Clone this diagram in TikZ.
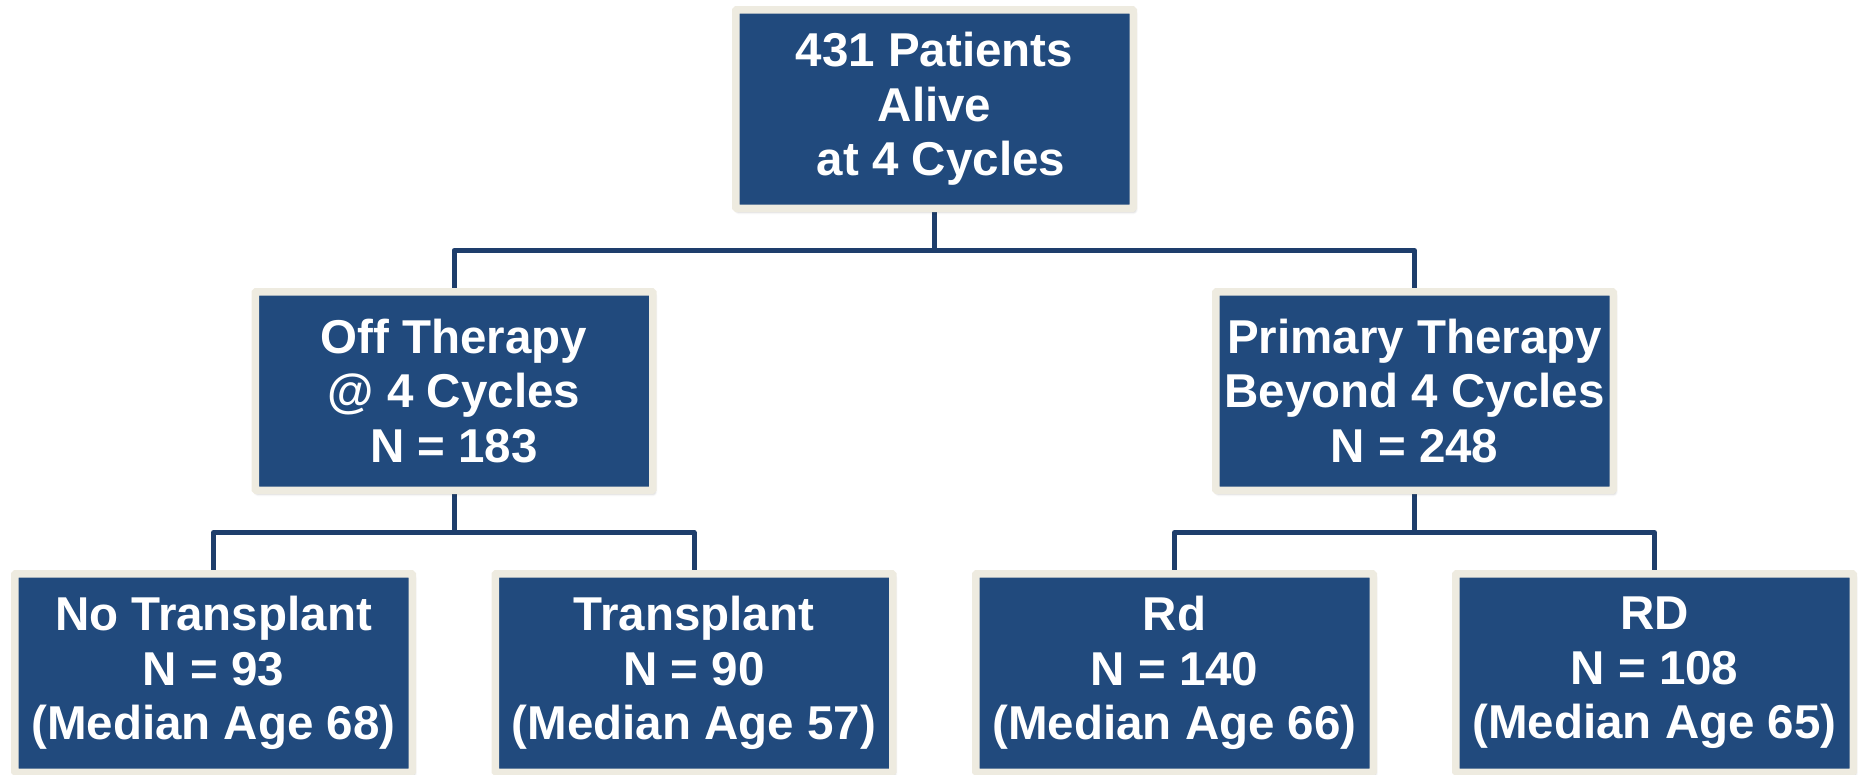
\documentclass[tikz,border=0pt]{standalone}
\usepackage{fontspec}
\setmainfont{Liberation Sans}
\usetikzlibrary{shadows.blur,backgrounds}

\definecolor{boxblue}{RGB}{33,74,125}
\definecolor{framecream}{RGB}{238,235,224}
\definecolor{linkblue}{RGB}{30,62,108}

\tikzset{
  flowbox/.style={
    rectangle, rounded corners=1pt,
    fill=boxblue, draw=framecream, line width=7.5pt,
    minimum width=397.5pt, minimum height=198.5pt, inner sep=0pt,
    text=white, align=center,
    font=\fontsize{47.5pt}{54.5pt}\selectfont\bfseries,
    blur shadow={shadow xshift=1.5pt, shadow yshift=-3pt,
                 shadow blur radius=3pt, shadow opacity=35}
  },
  link/.style={draw=linkblue, line width=5pt, line join=round}
}

\begin{document}
\begin{tikzpicture}[x=1pt, y=-1pt]
  \useasboundingbox (0,0) rectangle (1860,774);

  % tree of boxes
  \node[flowbox] (all) at (934.5,109) {431 Patients\\Alive\\\hspace*{13pt}at 4 Cycles};

  \node[flowbox] (off) at (454,391) {Off Therapy\\@ 4 Cycles\\N = 183};
  \node[flowbox] (prim) at (1414.5,391) {Primary Therapy\\Beyond 4 Cycles\\N = 248};

  \node[flowbox] (notx) at (213.5,673) {No Transplant\\N = 93\\(Median Age 68)};
  \node[flowbox] (tx) at (694,673) {Transplant\\N = 90\\(Median Age 57)};
  \node[flowbox] (rd) at (1174.5,673) {Rd\\N = 140\\(Median Age 66)};
  \node[flowbox] (bigrd) at (1654.5,673) {RD\\N = 108\\(Median Age 65)};

  % junction levels of the elbow connectors
  \coordinate (j1) at (934.5,250.5);
  \coordinate (j2) at (454,532.5);
  \coordinate (j3) at (1414.5,532.5);

  \begin{scope}[on background layer]
    \draw[link] (all.south) -- (j1);
    \draw[link] (j1) -| (off.north);
    \draw[link] (j1) -| (prim.north);

    \draw[link] (off.south) -- (j2);
    \draw[link] (j2) -| (notx.north);
    \draw[link] (j2) -| (tx.north);

    \draw[link] (prim.south) -- (j3);
    \draw[link] (j3) -| (rd.north);
    \draw[link] (j3) -| (bigrd.north);
  \end{scope}
\end{tikzpicture}
\end{document}
